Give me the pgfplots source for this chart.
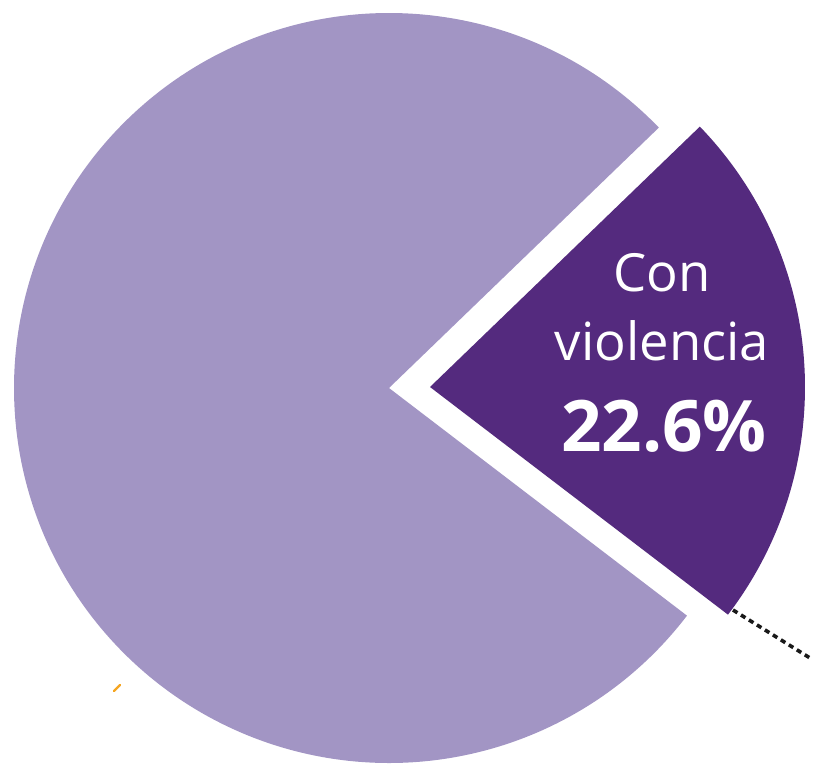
\documentclass[border=0pt]{standalone}
\usepackage{pgfplots}
\usepackage{pgfplotstable}
\pgfplotsset{compat=1.18}
\usepackage{fontspec}
\newfontfamily\labfont{Open Sans}
\definecolor{lightp}{HTML}{A295C4}
\definecolor{darkp}{HTML}{542A7E}
\definecolor{orangetick}{HTML}{F5A623}
\pgfplotstableread{
label value
Sin 77.4
Con 22.6
}\piedata
\begin{document}
\begin{tikzpicture}
\pgfplotstablegetelem{0}{value}\of\piedata \let\vsin\pgfplotsretval
\pgfplotstablegetelem{1}{value}\of\piedata \let\vcon\pgfplotsretval
\pgfmathsetmacro{\mid}{3.3}
\pgfmathsetmacro{\cs}{\mid-\vcon*1.8}
\pgfmathsetmacro{\ce}{\mid+\vcon*1.8}
\pgfmathsetmacro{\se}{\cs+360}
\begin{axis}[x=0.5pt, y=0.5pt, xmin=0, xmax=813, ymin=0, ymax=775,
  y dir=reverse, hide axis, clip=false]
\coordinate (bl) at (axis cs:0,775);
\coordinate (tr) at (axis cs:813,0);
% large slice
\fill[lightp] (axis cs:389,388) -- ++(\ce:187.5pt) arc[start angle=\ce, end angle=\se, radius=187.5pt] -- cycle;
% exploded slice
\fill[darkp] (axis cs:430,387) -- ++(\cs:187.5pt) arc[start angle=\cs, end angle=\ce, radius=187.5pt] -- cycle;
% leader line
\draw[black!90, line width=1.8pt, dash pattern=on 2.6pt off 2.1pt] (axis cs:733,610) -- (axis cs:810,658);
\draw[orangetick, line width=1.2pt, line cap=round] (axis cs:114,691) -- (axis cs:120,685);
\node[anchor=base, text=white, font=\labfont\fontsize{26.3}{28}\selectfont, inner sep=0pt] at (axis cs:662,292) {Con};
\node[anchor=base, text=white, font=\labfont\fontsize{26.3}{28}\selectfont, inner sep=0pt] at (axis cs:662,360) {violencia};
\node[anchor=base, text=white, font=\labfont\bfseries\fontsize{35.5}{38}\selectfont, inner sep=0pt] at (axis cs:664,451) {22.6\%};
\end{axis}
\pgfresetboundingbox
\useasboundingbox (bl) rectangle (tr);
\end{tikzpicture}
\end{document}
